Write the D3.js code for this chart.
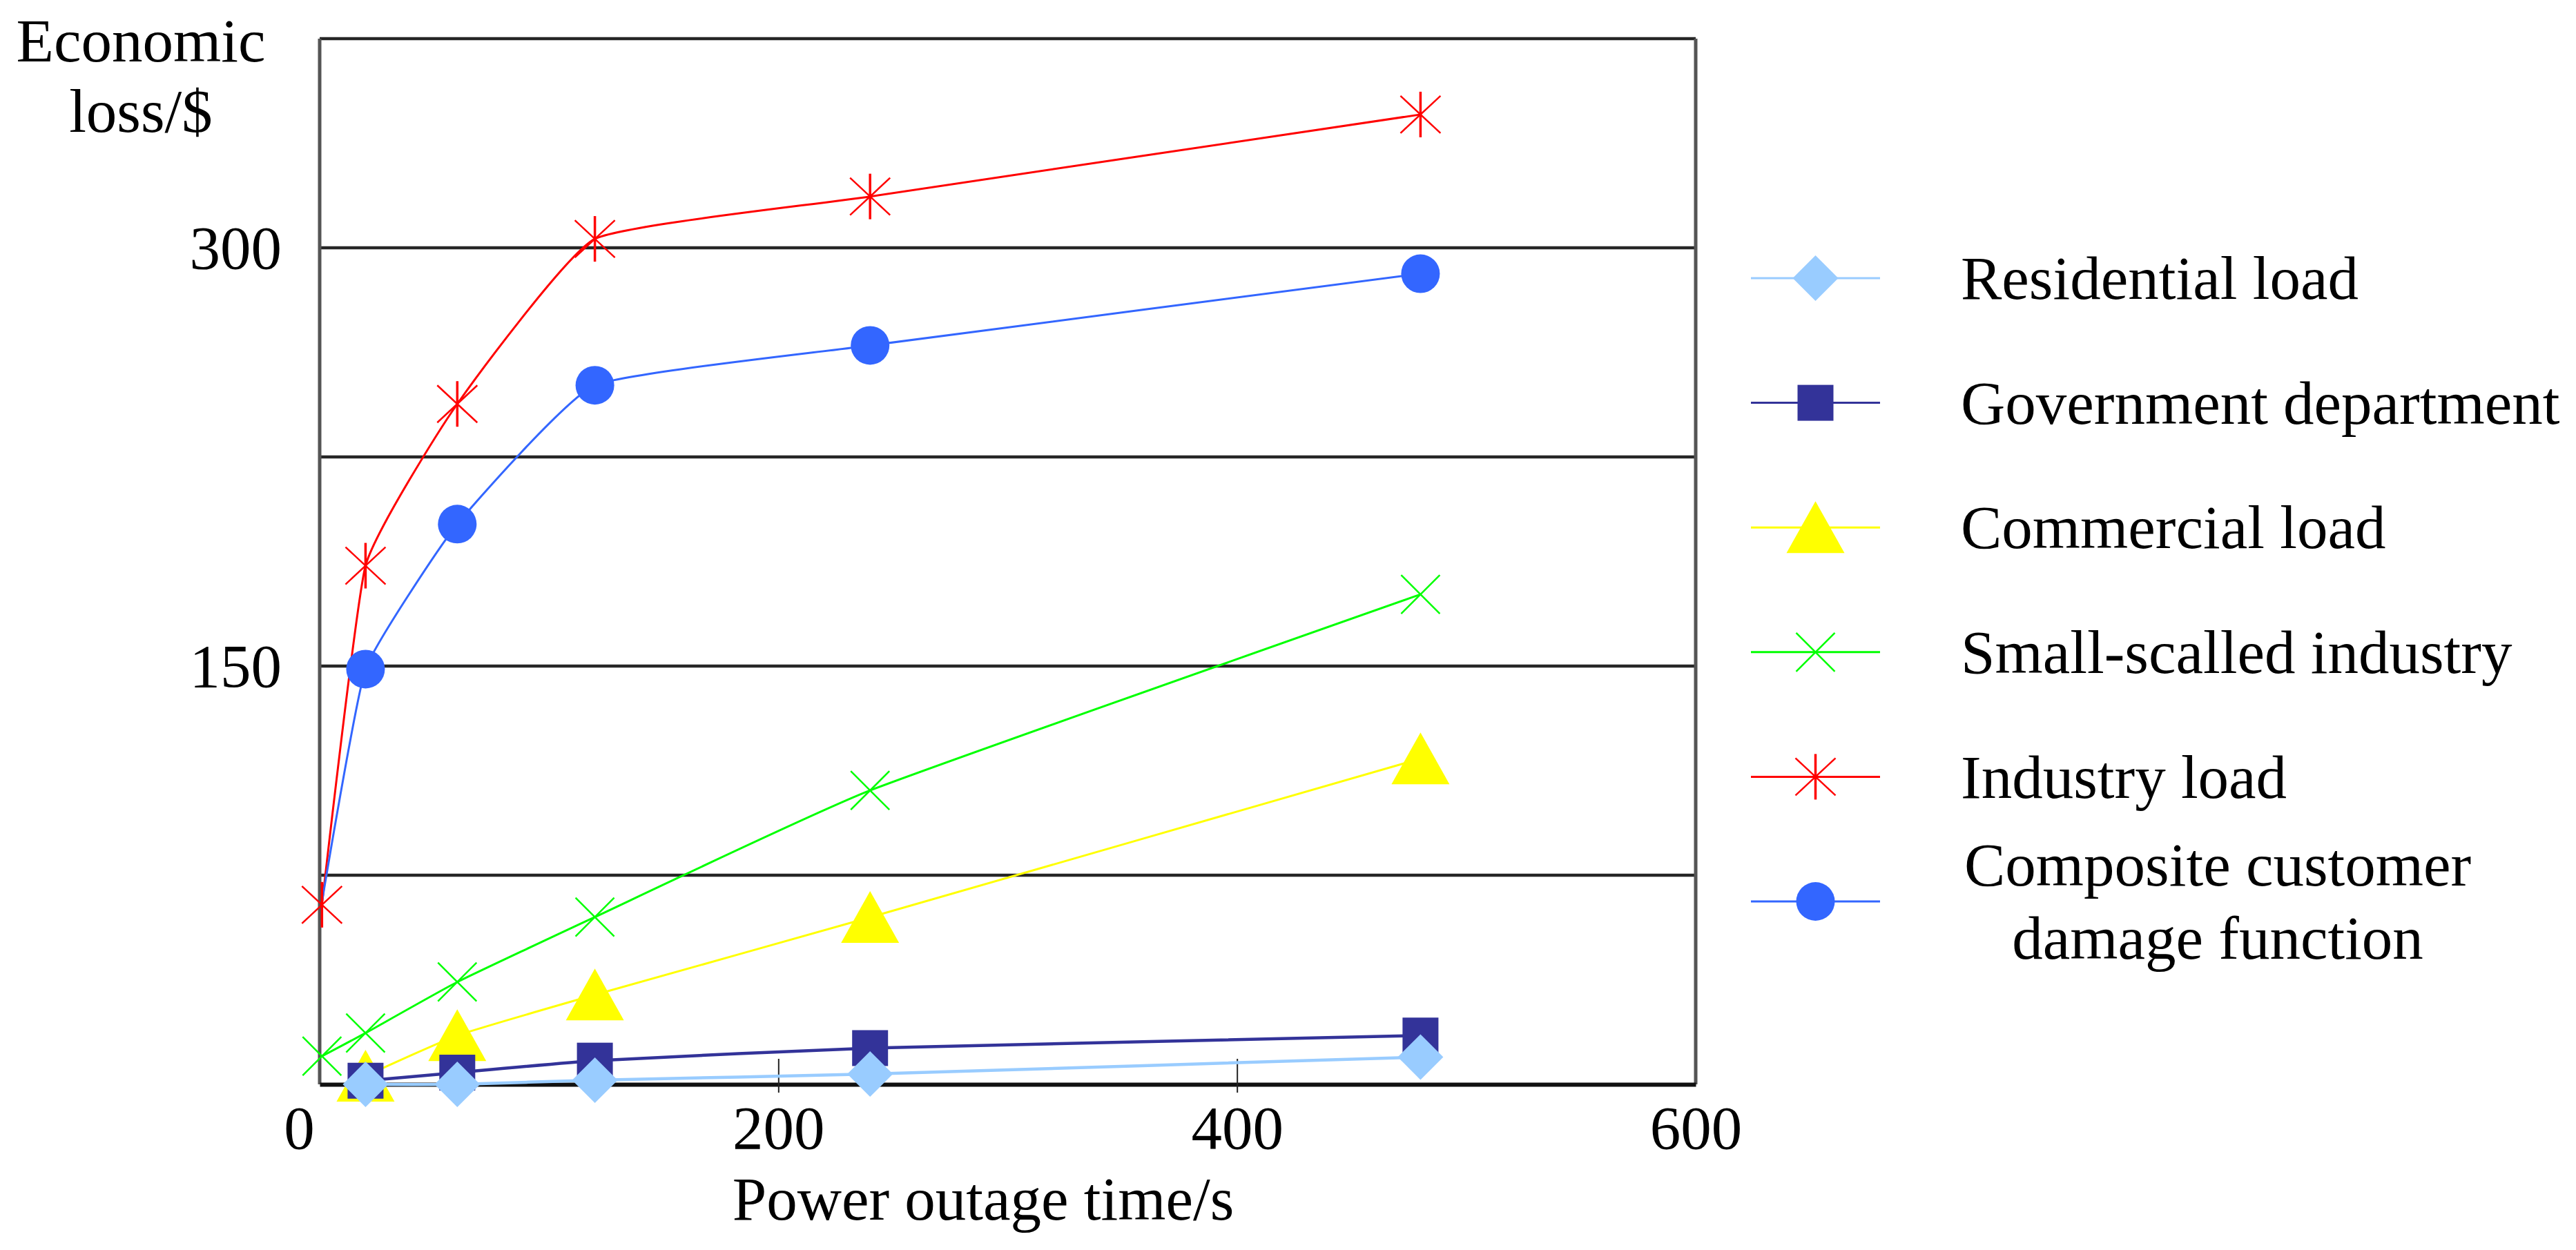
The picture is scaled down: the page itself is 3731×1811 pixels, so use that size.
<!DOCTYPE html>
<html>
<head>
<meta charset="utf-8">
<script src="https://cdn.jsdelivr.net/npm/d3@7"></script>
<style>
  body { margin: 0; background: #fff; }
  text { font-family: "Liberation Serif", "Times New Roman", serif; fill: #000; }
</style>
</head>
<body>
<svg id="chart"></svg>
<script>
// outage durations (x) and losses per customer class (y)
const outageTime = [1, 20, 60, 120, 240, 480];
const residentialLoss = [null, 0, 0, 1.5, 3.7, 9.8];
const governmentLoss = [null, 1.3, 4.2, 8.5, 13, 17.5];
const commercialLoss = [null, 3, 17.5, 32.1, 59.9, 116.8];
const smallIndustryLoss = [10.1, 18.4, 36.7, 60, 105.4, 175.7];
const industryLoss = [64.4, 186, 244, 303.2, 318.4, 347.8];
const compositeLoss = [65.5, 148.9, 200.9, 250.7, 265, 290.7];

const seriesNames = [
    "Residential load",
    "Government department",
    "Commercial load",
    "Small-scalled industry",
    "Industry load",
    "Composite customer\ndamage function"
];

const xTicks = [0, 200, 400, 600];
const yGrid = [75, 150, 225, 300];
const yLabels = [150, 300];

// --- layout ---
const W = 3731, H = 1811;
const plot = { left: 463, right: 2456, top: 56, bottom: 1571 };
const font = 89;

const svg = d3.select("#chart").attr("width", W).attr("height", H);

const x = d3.scaleLinear().domain([0, 600]).range([plot.left, plot.right]);
const y = d3.scaleLinear().domain([0, 375]).range([plot.bottom, plot.top]);

const series = [
    { name: seriesNames[0], values: residentialLoss, color: "#99ccff", width: 4.5, shape: "diamond" },
    { name: seriesNames[1], values: governmentLoss, color: "#333399", width: 4.5, shape: "square" },
    { name: seriesNames[2], values: commercialLoss, color: "#ffff00", width: 3, shape: "triangle" },
    { name: seriesNames[3], values: smallIndustryLoss, color: "#00ff00", width: 3, shape: "cross" },
    { name: seriesNames[4], values: industryLoss, color: "#ff0000", width: 3, shape: "asterisk" },
    { name: seriesNames[5], values: compositeLoss, color: "#3366ff", width: 3, shape: "circle", noMarker: [0] }
];

// marker drawing, centred at 0,0
function drawMarker(g, shape, color) {
    if (shape === "diamond") {
        g.append("path").attr("d", "M0,-33L33,0L0,33L-33,0Z").attr("fill", color);
    } else if (shape === "square") {
        g.append("rect").attr("x", -26).attr("y", -26).attr("width", 52).attr("height", 52).attr("fill", color);
    } else if (shape === "triangle") {
        g.append("path").attr("d", "M0,-38L42,37L-42,37Z").attr("fill", color);
    } else if (shape === "cross") {
        g.append("path").attr("d", "M-28,-28L28,28M28,-28L-28,28")
            .attr("stroke", color).attr("stroke-width", 2.5).attr("fill", "none");
    } else if (shape === "asterisk") {
        g.append("path").attr("d", "M-29,-27L29,27M29,-27L-29,27")
            .attr("stroke", color).attr("stroke-width", 2.5).attr("fill", "none");
        g.append("path").attr("d", "M0,-33L0,33")
            .attr("stroke", color).attr("stroke-width", 3.5).attr("fill", "none");
    } else if (shape === "circle") {
        g.append("circle").attr("r", 28).attr("fill", color);
    }
}

// gridlines
svg.append("g")
    .selectAll("line")
    .data(yGrid)
    .join("line")
    .attr("x1", plot.left).attr("x2", plot.right)
    .attr("y1", d => y(d)).attr("y2", d => y(d))
    .attr("stroke", "#262626").attr("stroke-width", 4.5);

// frame
svg.append("line").attr("x1", plot.left).attr("x2", plot.right)
    .attr("y1", plot.top).attr("y2", plot.top)
    .attr("stroke", "#262626").attr("stroke-width", 4.5);
svg.append("line").attr("x1", plot.left).attr("x2", plot.left)
    .attr("y1", plot.top).attr("y2", plot.bottom)
    .attr("stroke", "#555").attr("stroke-width", 5);
svg.append("line").attr("x1", plot.right).attr("x2", plot.right)
    .attr("y1", plot.top).attr("y2", plot.bottom)
    .attr("stroke", "#555").attr("stroke-width", 5);

// x axis
const xAxis = svg.append("g")
    .attr("transform", `translate(0,${plot.bottom})`)
    .call(d3.axisBottom(x).tickValues(xTicks).tickSizeInner(12).tickSizeOuter(0).tickPadding(18));
xAxis.select(".domain").attr("stroke", "#111").attr("stroke-width", 6);
xAxis.selectAll(".tick line")
    .attr("y1", -37)
    .attr("stroke", "#222").attr("stroke-width", 2)
    .attr("display", d => (d === 0 || d === 600) ? "none" : null);
xAxis.selectAll(".tick text")
    .attr("font-size", font).attr("font-family", "Liberation Serif, serif").attr("fill", "#000")
    .attr("dx", d => d === 0 ? -30 : 0);

// y tick labels (no tick marks)
svg.append("g")
    .selectAll("text")
    .data(yLabels)
    .join("text")
    .attr("x", 408)
    .attr("y", d => y(d))
    .attr("dy", "0.34em")
    .attr("text-anchor", "end")
    .attr("font-size", font)
    .text(d => d);

// axis titles
svg.append("text")
    .attr("x", 1424).attr("y", 1767)
    .attr("text-anchor", "middle").attr("font-size", font)
    .text("Power outage time/s");

const yTitle = svg.append("text")
    .attr("x", 204).attr("y", 89)
    .attr("text-anchor", "middle").attr("font-size", font);
yTitle.append("tspan").attr("x", 204).text("Economic");
yTitle.append("tspan").attr("x", 204).attr("dy", 102).text("loss/$");

// lines (lightly smoothed, like the original spreadsheet chart)
const line = d3.line()
    .defined(d => d.v !== null)
    .x(d => x(d.t))
    .y(d => y(d.v))
    .curve(d3.curveCardinal.tension(0.6));

const pts = s => outageTime.map((t, i) => ({ t, v: s.values[i], i }));

svg.append("g")
    .selectAll("path")
    .data(series)
    .join("path")
    .attr("d", s => line(pts(s)))
    .attr("fill", "none")
    .attr("stroke", d => d.color)
    .attr("stroke-width", d => d.width);

// markers, last series first so residential ends on top
series.slice().reverse().forEach(s => {
    const g = svg.append("g");
    pts(s)
        .filter(p => p.v !== null && !(s.noMarker || []).includes(p.i))
        .forEach(p => {
            const m = g.append("g").attr("transform", `translate(${x(p.t)},${y(p.v)})`);
            drawMarker(m, s.shape, s.color);
        });
});

// legend
const legendX = 2536, legendW = 187, legendTextX = 2840;
const legendTop = 403, legendStep = 180.6;

series.forEach((s, i) => {
    const cy = legendTop + i * legendStep;
    const g = svg.append("g");
    g.append("line")
        .attr("x1", legendX).attr("x2", legendX + legendW)
        .attr("y1", cy).attr("y2", cy)
        .attr("stroke", s.color).attr("stroke-width", 3);
    const m = g.append("g").attr("transform", `translate(${legendX + legendW / 2},${cy})`);
    drawMarker(m, s.shape, s.color);

    const lines = s.name.split("\n");
    const t = g.append("text").attr("font-size", font);
    if (lines.length === 1) {
        t.attr("x", legendTextX).attr("y", cy).attr("dy", "0.34em").text(s.name);
    } else {
        // centre the wrapped lines under the widest one
        const probe = g.append("text").attr("font-size", font).text(lines[0]);
        const w = probe.node().getComputedTextLength();
        probe.remove();
        const cx = legendTextX + 5 + w / 2;
        t.attr("text-anchor", "middle");
        lines.forEach((ln, k) => {
            t.append("tspan")
                .attr("x", cx)
                .attr("y", cy - 23 + k * 106)
                .text(ln);
        });
    }
});
</script>
</body>
</html>
